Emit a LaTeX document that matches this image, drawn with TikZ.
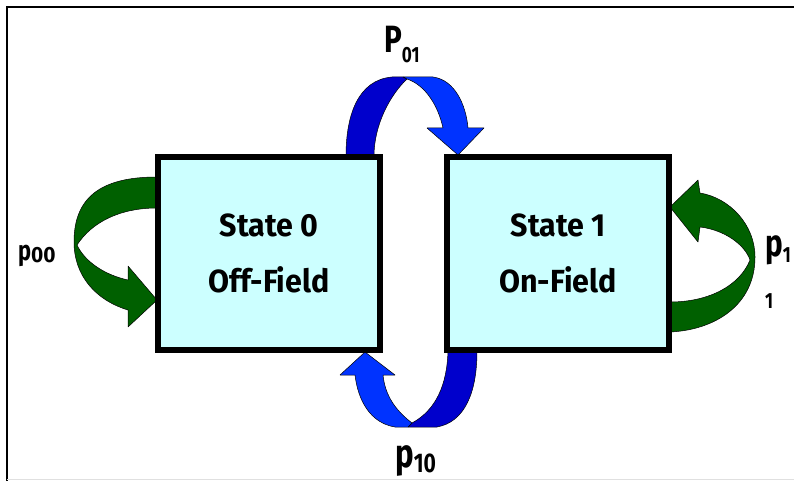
\documentclass[tikz,border=0pt]{standalone}
\usepackage{fontspec}
\setmainfont{Fira Sans}[FakeStretch=0.78]
\newfontfamily\boxfont{Fira Sans}[FakeStretch=0.95]
\definecolor{boxfill}{HTML}{CCFFFF}
\definecolor{darkblue}{HTML}{0000CC}
\definecolor{brightblue}{HTML}{0033FF}
\definecolor{arrowgreen}{HTML}{006000}
\begin{document}
\begin{tikzpicture}[x=1pt,y=-1pt,
  statebox/.style={draw=black, line width=4pt, fill=boxfill, minimum width=220pt, minimum height=191pt,
    inner sep=0pt, align=center, font=\boxfont\bfseries\fontsize{32}{56}\selectfont},
  lbl/.style={anchor=base west, inner sep=0pt, font=\bfseries},
  ribbon/.style={draw=black, line width=0.5pt, line join=round}]
\useasboundingbox (0,0) rectangle (794,481);
% frame
\draw[line width=1.5pt] (7,481) -- (7,7) -- (794,7);
\draw[black!12, line width=1.5pt] (7,479.5) -- (794,479.5);
% states
\node[statebox] (s0) at (269,253.5) {State 0\\Off-Field};
\node[statebox] (s1) at (558,253.5) {State 1\\On-Field};
% top arrow P01 (state 0 -> state 1)
\fill[ribbon, fill=darkblue] (346,156) .. controls (346,115) and (358,80) .. (392,77) -- (403,77) -- (407,79)
  .. controls (390,95) and (374,125) .. (374,156) -- cycle;
\fill[ribbon, fill=brightblue] (403,77) -- (433,77) .. controls (455,80) and (466,105) .. (468,128)
  -- (484,128) -- (458,155) -- (427,128) -- (443,128) .. controls (438,105) and (425,85) .. (407,79) -- cycle;
% bottom arrow p10 (state 1 -> state 0)
\fill[ribbon, fill=darkblue] (448,351) -- (477,351) .. controls (477,392) and (465,422) .. (437,427)
  -- (408,427) -- (412,423) .. controls (436,410) and (447,385) .. (448,351) -- cycle;
\fill[ribbon, fill=brightblue] (395,427) -- (408,427) -- (412,423) .. controls (395,410) and (385,395) .. (383,375)
  -- (395,375) -- (365,352) -- (340,375) -- (355,375) .. controls (358,400) and (370,423) .. (395,427) -- cycle;
% left self loop p00
\fill[ribbon, fill=arrowgreen] (157,177) .. controls (100,177) and (74,198) .. (74,242)
  .. controls (74,275) and (95,300) .. (128,310) -- (128,327) -- (157,300) -- (128,266) -- (128,280)
  .. controls (105,275) and (85,262) .. (77,245) .. controls (92,222) and (120,208) .. (157,208) -- cycle;
% right self loop p11
\fill[ribbon, fill=arrowgreen] (670,332) .. controls (715,330) and (755,305) .. (755,257)
  .. controls (755,225) and (730,198) .. (700,193) -- (698,180) -- (670,207) -- (698,242) -- (700,227)
  .. controls (725,230) and (745,245) .. (750,260) .. controls (740,285) and (710,302) .. (670,302) -- cycle;
% redraw box borders on top of the arrow ends
\draw[line width=4pt] (s0.south west) rectangle (s0.north east);
\draw[line width=4pt] (s1.south west) rectangle (s1.north east);
% labels
\node[lbl] (l01) at (384,53) {\fontsize{38}{38}\selectfont P\raisebox{-10pt}{\fontsize{22}{22}\selectfont 01}};
\node[lbl] (l10) at (395,467) {\fontsize{40}{40}\selectfont p\raisebox{-5pt}{\fontsize{27}{27}\selectfont 10}};
\node[lbl] (l00) at (18,260) {\fontsize{28}{28}\selectfont p\raisebox{-2pt}{\boxfont\fontsize{22}{22}\selectfont 00}};
\node[lbl] (l11) at (765,256) {\fontsize{38}{38}\selectfont p\raisebox{-6pt}{\fontsize{22}{22}\selectfont 1}};
\node[lbl] (l11b) at (765,308) {\fontsize{22}{22}\selectfont 1};
\end{tikzpicture}
\end{document}
